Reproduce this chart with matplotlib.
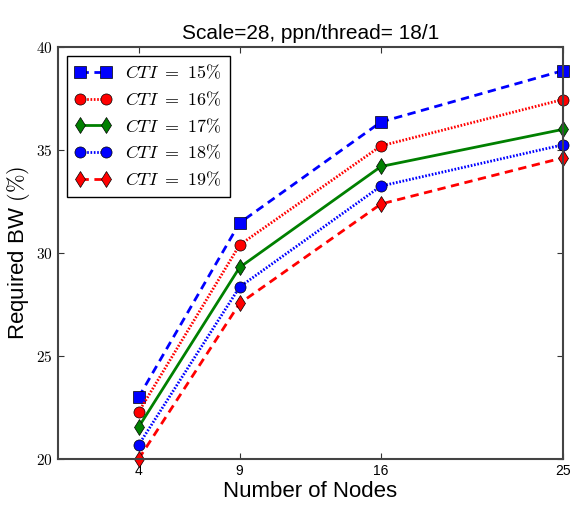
import matplotlib
matplotlib.use("Agg")
import matplotlib.pyplot as plt

plt.rcParams['mathtext.fontset'] = 'cm'

nodes = [4, 9, 16, 25]
cti15 = [23.0, 31.46, 36.36, 38.85]
cti16 = [22.28, 30.39, 35.2, 37.45]
cti17 = [21.55, 29.3, 34.2, 36.0]
cti18 = [20.68, 28.35, 33.25, 35.25]
cti19 = [20.0, 27.55, 32.38, 34.62]
labels = [r'$CTI\ =\ 15\%$', r'$CTI\ =\ 16\%$', r'$CTI\ =\ 17\%$', r'$CTI\ =\ 18\%$', r'$CTI\ =\ 19\%$']
yticks = [20, 25, 30, 35, 40]

fig = plt.figure(figsize=(5.72, 5.05), dpi=100)
ax = fig.add_axes([0.101, 0.091, 0.883, 0.816])

styles = [
    dict(color='blue', marker='s', dashes=(3, 2)),
    dict(color='red', marker='o', dashes=(0.6, 0.6)),
    dict(color='green', linestyle='-', marker='d'),
    dict(color='blue', marker='o', dashes=(0.6, 0.6)),
    dict(color='red', marker='d', dashes=(3, 2)),
]
series = [cti15, cti16, cti17, cti18, cti19]
for s, lab, st in zip(series, labels, styles):
    ax.plot(nodes, s, label=lab, linewidth=2, markersize=8, markeredgecolor='black',
            markeredgewidth=0.5, clip_on=False, **st)

ax.set_xlim(0, 25)
ax.set_ylim(20, 40)
ax.set_xticks(nodes)
ax.set_xticklabels([str(n) for n in nodes], fontsize=10, family='Liberation Sans')
ax.set_yticks(yticks)
ax.set_yticklabels(['$%d$' % v for v in yticks], fontsize=11)
ax.tick_params(direction='in', top=True, right=True, length=4, width=0.8, color='#333333')
for sp in ax.spines.values():
    sp.set_linewidth(1.5)
    sp.set_color('#444444')

ax.set_xlabel('Number of Nodes', fontsize=16, family='Liberation Sans', labelpad=2)
ax.set_ylabel(r'Required BW $(\%)$', fontsize=16, family='Liberation Sans', labelpad=3)
ax.set_title('Scale=28, ppn/thread= 18/1', fontsize=15, family='Liberation Sans', pad=6)

leg = ax.legend(loc='upper left', fontsize=13, fancybox=False, framealpha=1,
                edgecolor='black', numpoints=2, handlelength=2.0, borderpad=0.45,
                labelspacing=0.45)
leg.get_frame().set_linewidth(1.0)

fig.savefig('out.png', dpi=100)
